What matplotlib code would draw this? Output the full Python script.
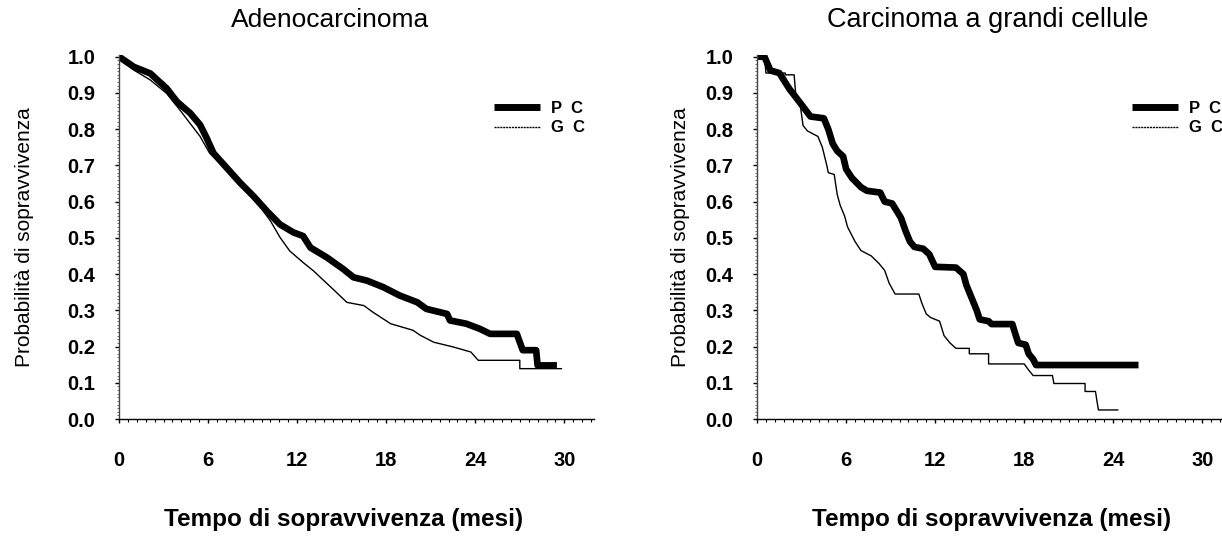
import numpy as np
import matplotlib
matplotlib.use('Agg')
import matplotlib.pyplot as plt
from matplotlib.ticker import MultipleLocator
from matplotlib.lines import Line2D

# ==================== dati ====================
titoli = ['Adenocarcinoma', 'Carcinoma a grandi cellule']
x_ticks = [0, 6, 12, 18, 24, 30]
y_ticks = [0.0, 0.1, 0.2, 0.3, 0.4, 0.5, 0.6, 0.7, 0.8, 0.9, 1.0]

# Adenocarcinoma - P C (vertici della curva)
adeno_pc_t = [0, 1.0, 2.1, 3.2, 3.9, 4.8, 5.46, 5.9, 6.36, 7.26, 8.16, 9.06, 9.96,
              10.85, 11.75, 12.4, 12.9, 14.0, 15.1, 15.8, 16.7, 17.8, 18.9, 20.1,
              20.7, 22.1, 22.3, 23.4, 24.3, 25.0, 26.8, 27.0, 27.2, 28.1, 28.2, 29.5]
adeno_pc_s = [1.0, 0.972, 0.954, 0.913, 0.876, 0.844, 0.812, 0.776, 0.734, 0.693,
              0.652, 0.615, 0.574, 0.537, 0.515, 0.505, 0.473, 0.446, 0.414, 0.391,
              0.382, 0.364, 0.341, 0.322, 0.304, 0.290, 0.272, 0.263, 0.249, 0.235,
              0.235, 0.212, 0.190, 0.190, 0.148, 0.148]
# Adenocarcinoma - G C
adeno_gc_t = [0, 1.0, 2.1, 3.2, 4.1, 5.46, 6.1, 7.26, 8.16, 9.3, 10.2, 10.85, 11.5,
              12.4, 13.1, 13.8, 14.4, 15.35, 16.5, 17.1, 18.3, 19.8, 20.3, 21.2,
              22.5, 23.7, 24.2, 27.0, 27.0, 29.8]
adeno_gc_s = [1.0, 0.963, 0.936, 0.899, 0.853, 0.780, 0.734, 0.689, 0.652, 0.597,
              0.547, 0.501, 0.464, 0.432, 0.409, 0.382, 0.359, 0.322, 0.313, 0.295,
              0.263, 0.245, 0.231, 0.212, 0.199, 0.185, 0.162, 0.162, 0.139, 0.139]

# Carcinoma a grandi cellule - P C
grandi_pc_t = [0, 0.5, 0.9, 1.5, 2.2, 2.9, 3.6, 4.5, 4.8, 5.1, 5.4, 5.8, 6.0, 6.4,
               7.0, 7.4, 8.3, 8.6, 9.1, 9.4, 9.7, 10.0, 10.3, 10.6, 11.2, 11.6, 12.0,
               13.4, 13.9, 14.1, 14.4, 14.8, 15.0, 15.6, 15.8, 17.2, 17.4, 17.6, 18.1,
               18.3, 18.6, 18.8, 25.7]
grandi_pc_s = [1.0, 1.0, 0.962, 0.955, 0.910, 0.873, 0.835, 0.830, 0.800, 0.760,
               0.740, 0.725, 0.690, 0.665, 0.640, 0.630, 0.625, 0.600, 0.595, 0.575,
               0.555, 0.520, 0.490, 0.475, 0.470, 0.455, 0.420, 0.418, 0.400, 0.370,
               0.340, 0.300, 0.275, 0.270, 0.262, 0.262, 0.235, 0.210, 0.205, 0.180,
               0.165, 0.149, 0.149]
# Carcinoma a grandi cellule - G C
grandi_gc_t = [0, 0.5, 0.6, 1.9, 1.9, 2.5, 2.6, 2.9, 3.1, 3.4, 4.1, 4.4, 4.7, 4.8,
               5.2, 5.4, 5.6, 5.9, 6.1, 6.6, 7.0, 7.7, 8.2, 8.6, 8.9, 9.3, 10.9, 11.1,
               11.4, 11.7, 12.3, 12.6, 13.0, 13.4, 14.3, 14.3, 15.6, 15.6, 18.0, 18.3,
               18.6, 19.9, 20.0, 22.1, 22.1, 22.8, 22.9, 23.0, 24.3]
grandi_gc_s = [1.0, 1.0, 0.955, 0.955, 0.950, 0.950, 0.900, 0.870, 0.810, 0.795,
               0.780, 0.750, 0.700, 0.680, 0.675, 0.620, 0.590, 0.560, 0.530, 0.490,
               0.465, 0.450, 0.430, 0.410, 0.375, 0.345, 0.345, 0.320, 0.290, 0.280,
               0.270, 0.230, 0.210, 0.195, 0.195, 0.180, 0.180, 0.152, 0.152, 0.135,
               0.120, 0.120, 0.098, 0.098, 0.076, 0.076, 0.050, 0.025, 0.025]

pannelli = [
    (titoli[0], adeno_pc_t, adeno_pc_s, adeno_gc_t, adeno_gc_s),
    (titoli[1], grandi_pc_t, grandi_pc_s, grandi_gc_t, grandi_gc_s),
]

ARIAL = ['Liberation Sans', 'DejaVu Sans']

fig = plt.figure(figsize=(12.22, 5.41), dpi=100)
posizioni = [[0.0974, 0.2255, 0.3887, 0.673],
             [0.6195, 0.2255, 0.3887, 0.673]]
ylab_x = [-0.198, -0.162]
tit_x = [0.445, 0.485]
xlab_x = [0.473, 0.494]
tit_size = [19, 19.5]

for i, (titolo, pc_t, pc_s, gc_t, gc_s) in enumerate(pannelli):
    ax = fig.add_axes(posizioni[i])
    ax.plot(gc_t, gc_s, color='black', linewidth=1.0)
    ax.plot(pc_t, pc_s, color='black', linewidth=4.8, solid_capstyle='butt')

    ax.set_xlim(0, 32)
    ax.set_ylim(0, 1.005)
    ax.set_xticks(x_ticks)
    ax.set_yticks(y_ticks)
    ax.set_yticklabels([f'{v:.1f}' for v in y_ticks])
    ax.xaxis.set_minor_locator(MultipleLocator(0.6))
    ax.yaxis.set_minor_locator(MultipleLocator(0.01))
    ax.tick_params(axis='both', which='major', direction='out', length=3, width=1)
    ax.tick_params(axis='x', which='major', pad=20)
    ax.tick_params(axis='y', which='major', pad=14)
    ax.tick_params(axis='x', which='minor', direction='out', length=2, width=0.8)
    ax.tick_params(axis='y', which='minor', direction='out', length=1.5, width=0.6,
                   color='#555555')
    for lab in ax.get_xticklabels() + ax.get_yticklabels():
        lab.set_family(ARIAL)
        lab.set_fontweight('bold')
        lab.set_fontsize(14.5)

    for s in ['top', 'right']:
        ax.spines[s].set_visible(False)
    ax.spines['left'].set_color('#444444')
    ax.spines['left'].set_linewidth(1.0)
    ax.spines['bottom'].set_linewidth(1.0)

    ax.text(tit_x[i], 1.096, titolo, transform=ax.transAxes, ha='center',
            va='center', family=ARIAL, fontsize=tit_size[i])
    ax.set_ylabel('Probabilità di sopravvivenza', family=ARIAL, fontsize=15,
                  va='center')
    ax.yaxis.set_label_coords(ylab_x[i], 0.5)
    ax.set_xlabel('Tempo di sopravvivenza (mesi)', family=ARIAL, fontsize=17.5,
                  fontweight='bold', va='center')
    ax.xaxis.set_label_coords(xlab_x[i], -0.277)

    handles = [Line2D([], [], color='black', linewidth=5, solid_capstyle='butt'),
               Line2D([], [], color='black', linewidth=1.0, linestyle=(0, (1.5, 0.6)))]
    ax.legend(handles, ['P  C', 'G  C'], loc='center left',
              bbox_to_anchor=(0.789, 0.826), frameon=False, borderpad=0,
              borderaxespad=0, handlelength=2.75, handletextpad=0.7,
              labelspacing=0.25, prop={'family': ARIAL, 'weight': 'bold', 'size': 12})

fig.savefig('out.png', dpi=100)
